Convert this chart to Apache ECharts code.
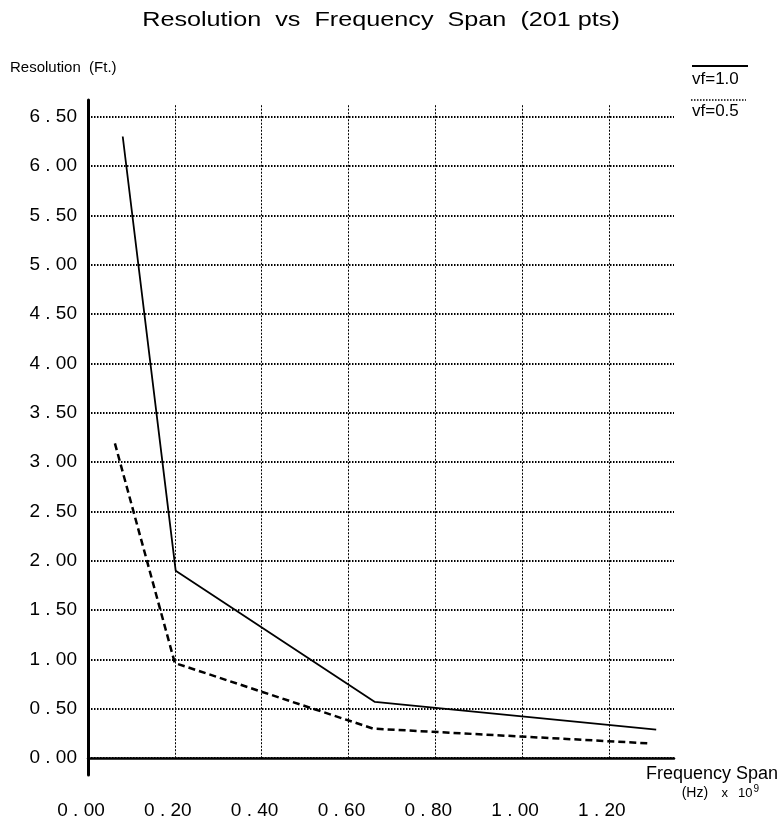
<!DOCTYPE html>
<html>
<head>
<meta charset="utf-8">
<title>Resolution vs Frequency Span</title>
<script src="https://cdn.jsdelivr.net/npm/echarts@6/dist/echarts.min.js"></script>
<style>
  html, body { margin: 0; padding: 0; background: #fff; }
  #chart { width: 783px; height: 826px; }
</style>
</head>
<body>
<div id="chart"></div>
<script>
// Frequency span in GHz (x 10^9 Hz)
const spanVf10 = [0.08, 0.202, 0.661, 1.309];
const resVf10  = [6.30, 1.90, 0.57, 0.29];

const spanVf05 = [0.062, 0.20, 0.657, 1.295];
const resVf05  = [3.19, 0.965, 0.30, 0.15];

// Axis tick values
const xTicks = [0.0, 0.2, 0.4, 0.6, 0.8, 1.0, 1.2];
const yTicks = [0.0, 0.5, 1.0, 1.5, 2.0, 2.5, 3.0, 3.5, 4.0, 4.5, 5.0, 5.5, 6.0, 6.5];

// Extents of the drawing area
const xMax = 1.35;
const yMin = -0.17;
const yMax = 6.67;
const vGridTop = 6.62;

const FONT = '"Liberation Sans", Arial, sans-serif';
const fmt = v => v.toFixed(2).replace('.', ' . ');
const hDotted = { color: '#000', width: 2, type: [1.5, 1.5] };
const vDotted = { color: '#000', width: 1, type: [2, 1.5] };

const toPairs = (xs, ys) => xs.map((x, i) => [x, ys[i]]);

// vertical dotted grid lines, from the x axis up to the top
const vGrid = xTicks.filter(v => v > 0).map(v => [
  { coord: [v, 0] },
  { coord: [v, vGridTop] }
]);

const chart = echarts.init(document.getElementById('chart'), null, { renderer: 'canvas' });

chart.setOption({
  backgroundColor: '#fff',
  animation: false,
  grid: { left: 88, right: 109, top: 100, bottom: 51, outerBoundsMode: 'none', containLabel: false },
  xAxis: {
    type: 'value',
    min: 0,
    max: xMax,
    axisLine: { onZero: true, lineStyle: { color: '#000', width: 2.5 } },
    axisTick: { show: false, customValues: xTicks },
    splitLine: { show: false },
    axisLabel: {
      customValues: xTicks,
      formatter: fmt,
      margin: 26,
      padding: [0, 14, 0, 0],
      fontFamily: FONT,
      fontSize: 19,
      color: '#000'
    }
  },
  yAxis: {
    type: 'value',
    min: yMin,
    max: yMax,
    axisLine: { show: true, lineStyle: { color: '#000', width: 3 } },
    axisTick: { show: false, customValues: yTicks },
    splitLine: { show: true, lineStyle: hDotted },
    axisLabel: {
      customValues: yTicks,
      formatter: fmt,
      margin: 11,
      fontFamily: FONT,
      fontSize: 19,
      color: '#000'
    }
  },
  graphic: [
    // chart title
    {
      type: 'text', x: 381, y: 10, scaleX: 1.2,
      style: {
        text: 'Resolution  vs  Frequency  Span  (201 pts)',
        font: '21px ' + FONT, fill: '#000', align: 'center', verticalAlign: 'top'
      }
    },
    {
      type: 'text', x: 10, y: 61, scaleX: 1.07,
      style: { text: 'Resolution  (Ft.)', font: '14px ' + FONT, fill: '#000' }
    },
    {
      type: 'text', x: 778, y: 765,
      style: { text: 'Frequency Span', font: '18px ' + FONT, fill: '#000', align: 'right' }
    },
    {
      type: 'text', x: 759, y: 784,
      style: {
        text: '{s|(Hz)}    {m|x}   {m|10}{sup|9}',
        fill: '#000',
        align: 'right',
        rich: {
          s: { font: '14px ' + FONT, fill: '#000' },
          m: { font: '13px ' + FONT, fill: '#000' },
          sup: { font: '10px ' + FONT, fill: '#000', verticalAlign: 'top', padding: [0, 0, 8, 1] }
        }
      }
    },
    // legend
    {
      type: 'line', shape: { x1: 692, y1: 66, x2: 748, y2: 66 },
      style: { stroke: '#000', lineWidth: 2 }
    },
    {
      type: 'text', x: 692, y: 71,
      style: { text: 'vf=1.0', font: '17px ' + FONT, fill: '#000' }
    },
    {
      type: 'line', shape: { x1: 691, y1: 100, x2: 746, y2: 100 },
      style: { stroke: '#000', lineWidth: 1.5, lineDash: [1.5, 1.5] }
    },
    {
      type: 'text', x: 692, y: 103,
      style: { text: 'vf=0.5', font: '17px ' + FONT, fill: '#000' }
    }
  ],
  series: [
    {
      name: 'vf=1.0',
      type: 'line',
      data: toPairs(spanVf10, resVf10),
      symbol: 'none',
      lineStyle: { color: '#000', width: 1.8 },
      z: 3,
      markLine: {
        silent: true,
        symbol: ['none', 'none'],
        label: { show: false },
        lineStyle: vDotted,
        data: vGrid
      }
    },
    {
      name: 'vf=0.5',
      type: 'line',
      data: toPairs(spanVf05, resVf05),
      symbol: 'none',
      lineStyle: { color: '#000', width: 2.5, type: [7, 4] },
      z: 3
    }
  ]
});
</script>
</body>
</html>
